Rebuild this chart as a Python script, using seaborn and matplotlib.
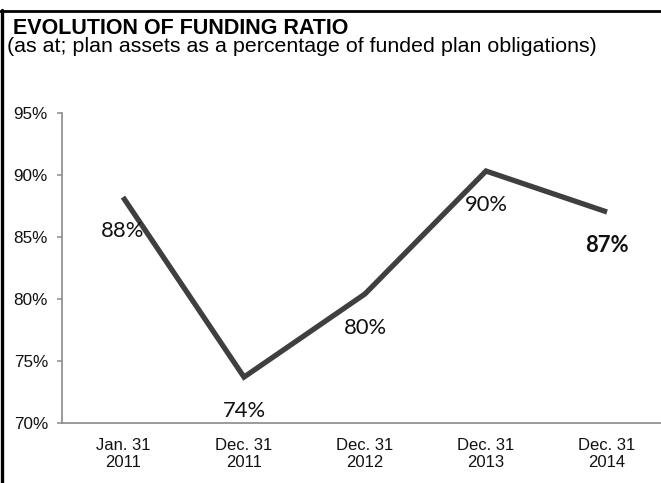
import matplotlib
matplotlib.use("Agg")
import matplotlib.pyplot as plt
from matplotlib.lines import Line2D
import seaborn as sns
import pandas as pd

# Funding ratio (plan assets as % of funded plan obligations)
dates = ["Jan. 31\n2011", "Dec. 31\n2011", "Dec. 31\n2012", "Dec. 31\n2013", "Dec. 31\n2014"]
ratios = [88.2, 73.7, 80.4, 90.3, 87.0]
y_ticks = [70, 75, 80, 85, 90, 95]

df = pd.DataFrame({"date": dates, "ratio": ratios})

sns.set_theme(style="white")
plt.rcParams["font.family"] = ["Liberation Sans", "DejaVu Sans"]

W, H = 661, 483
fig = plt.figure(figsize=(W / 100, H / 100), dpi=100)
ax = fig.add_axes([62 / W, 1 - 423 / H, 1 - 62 / W, (423 - 112.7) / H])

sns.lineplot(data=df, x="date", y="ratio", sort=False, ax=ax,
             color="#3f3f3f", linewidth=3.8, solid_joinstyle="miter",
             solid_capstyle="butt")

ax.set_ylim(70, 95)
ax.set_xlim(-0.504, 4.446)
ax.set_yticks(y_ticks)
ax.set_yticklabels([f"{t}%" for t in y_ticks])
ax.set_xlabel("")
ax.set_ylabel("")

for side in ["top", "right"]:
    ax.spines[side].set_visible(False)
for side in ["left", "bottom"]:
    ax.spines[side].set_color("#8a8a8a")
    ax.spines[side].set_linewidth(1.2)

ax.tick_params(axis="y", which="major", left=True, length=3.6, width=1.1,
               color="#8a8a8a", pad=6.5, labelsize=12.3, labelcolor="#111111")
ax.tick_params(axis="x", which="major", bottom=False, length=0, pad=11,
               labelsize=12, labelcolor="#111111")
for lbl in ax.get_xticklabels():
    lbl.set_linespacing(1.12)

# Value labels under each point
for i, v in enumerate(ratios):
    last = i == len(ratios) - 1
    ax.annotate(f"{v:.0f}%", xy=(i, v), xytext=(0, -34), textcoords="offset pixels",
                ha="center", va="center", fontsize=15.8, family=["Lato", "DejaVu Sans"],
                fontweight="bold" if last else "normal", color="#111111")

# Title block
fig.text(13 / W, 1 - 34.5 / H, "EVOLUTION OF FUNDING RATIO", fontsize=15.5,
         fontweight="bold", ha="left", va="baseline", color="#000000")
fig.text(7 / W, 1 - 52.5 / H, "(as at; plan assets as a percentage of funded plan obligations)",
         fontsize=15.4, ha="left", va="baseline", color="#000000")

# Frame lines along top and left edges
fig.add_artist(Line2D([0, 1], [1 - 11.3 / H, 1 - 11.3 / H], color="black", linewidth=2.0,
                      transform=fig.transFigure))
fig.add_artist(Line2D([1.6 / W, 1.6 / W], [0, 1 - 10 / H], color="black", linewidth=2.4,
                      transform=fig.transFigure))

fig.savefig("out.png", dpi=100)
